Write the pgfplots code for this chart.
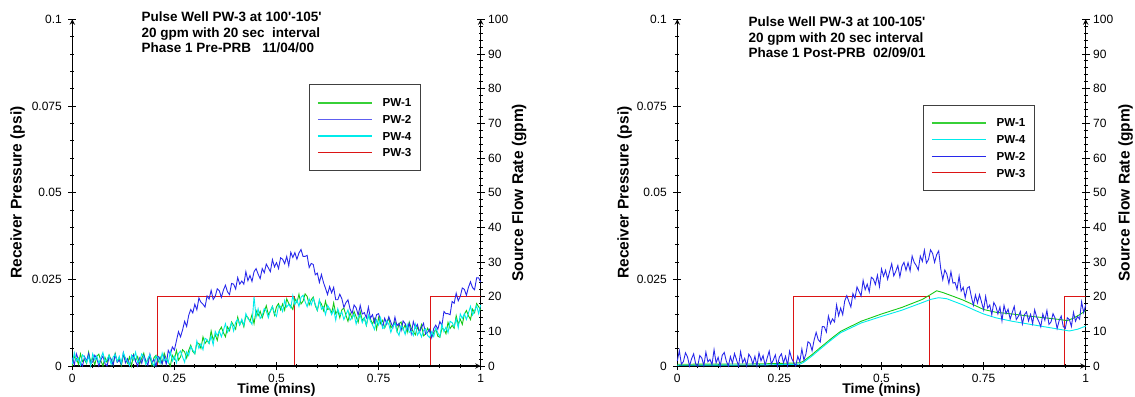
\documentclass[border=0pt]{standalone}
\usepackage{pgfplots}
\pgfplotsset{compat=1.18}
\usepackage{pgfplotstable}
\usepackage{fontspec}
\setmainfont{Liberation Sans}
\definecolor{pgreen}{RGB}{20,200,20}
\definecolor{pblue}{RGB}{40,40,235}
\definecolor{pcyan}{RGB}{0,235,235}
\definecolor{pred}{RGB}{220,20,20}

% pressure values in units of 0.001 psi, sampled every 0.005 min
\pgfplotstableread{
pw1 pw2 pw4
0.0 2.4 0.6
2.7 0.4 3.8
2.2 3.5 1.4
0.5 1.9 2.3
3.5 1.0 0.3
1.3 0.0 3.2
1.9 2.7 2.5
0.7 1.4 1.0
4.0 3.6 2.8
1.1 0.6 0.0
2.3 1.2 3.5
0.3 3.1 1.8
2.8 2.2 2.9
3.4 0.0 0.8
1.5 1.8 2.4
0.0 2.9 3.9
2.5 0.7 1.1
1.0 0.0 1.9
3.2 2.5 3.1
1.8 2.0 0.4
0.4 0.3 2.6
3.6 3.3 3.3
1.2 1.1 1.3
2.1 1.7 2.8
0.1 0.5 0.8
3.0 3.8 3.9
2.3 0.9 2.3
0.8 2.1 1.4
2.6 0.1 0.2
0.0 2.6 3.1
3.3 3.2 1.8
1.6 1.3 4.0
2.7 0.0 1.0
0.6 2.3 1.6
2.2 0.8 3.5
3.7 3.0 2.6
0.9 1.6 0.4
1.7 0.2 2.2
2.9 3.4 3.3
0.2 1.0 1.1
2.4 1.9 0.0
3.1 0.0 2.9
1.1 2.8 2.4
2.6 2.1 0.7
0.6 0.6 3.7
3.7 2.9 1.5
2.1 0.5 2.1
1.2 4.5 0.9
0.0 3.3 4.2
3.1 5.5 1.4
2.0 4.6 2.8
4.5 7.3 0.9
1.7 9.9 3.6
2.6 8.4 4.3
4.7 10.4 2.6
4.1 12.9 1.1
2.3 11.4 4.1
4.5 14.6 3.0
6.0 16.3 5.6
4.2 15.3 4.6
3.5 17.8 3.6
6.7 16.2 7.2
6.5 19.6 5.1
5.1 18.4 6.4
8.4 17.8 4.7
6.5 17.0 8.0
7.4 20.2 7.6
6.5 19.3 6.5
10.1 21.8 8.6
7.5 19.2 6.1
9.0 20.1 10.0
7.4 22.3 8.7
10.2 21.7 10.1
11.2 19.8 8.4
9.6 21.9 10.3
8.4 23.3 12.2
11.3 21.4 9.7
10.2 20.6 10.9
12.7 23.8 12.4
11.7 23.6 10.1
10.6 22.2 12.6
14.1 25.5 13.5
11.9 23.6 11.8
13.1 24.5 13.5
11.3 23.6 11.7
14.5 27.2 15.1
14.0 24.6 13.7
12.8 26.1 13.0
14.8 24.4 12.0
12.2 27.2 20.0
16.0 28.1 14.1
14.5 26.5 16.5
15.8 25.2 13.7
13.9 28.1 14.5
15.7 26.9 16.6
17.4 29.4 15.9
14.8 28.3 13.9
15.8 27.2 15.9
17.2 30.7 17.2
14.7 28.6 15.2
17.1 29.8 14.3
18.0 28.1 17.4
16.2 31.2 17.2
17.9 30.8 15.7
16.1 29.5 18.9
19.4 31.6 17.0
18.0 28.9 17.8
17.3 32.8 16.8
16.3 31.3 20.3
19.4 32.7 17.7
18.3 30.8 19.1
20.7 32.6 17.2
17.9 33.6 19.8
18.7 31.6 20.4
20.8 31.6 18.6
20.1 31.9 17.1
17.6 28.4 19.4
19.1 29.6 17.6
19.9 29.3 19.5
17.4 26.3 17.8
16.0 26.8 16.1
18.7 24.1 19.1
17.9 26.4 16.4
16.0 24.1 17.1
18.7 22.4 14.8
16.3 20.6 17.5
16.6 22.9 16.5
15.2 21.1 14.8
18.2 22.7 16.3
15.1 19.1 13.2
16.0 19.1 16.5
13.9 20.7 14.7
16.2 19.4 15.6
16.7 16.9 13.4
14.6 18.3 14.8
12.9 19.1 16.2
15.3 16.5 13.2
13.7 15.1 13.9
15.7 17.6 14.9
14.2 16.8 12.1
12.6 14.7 14.1
15.7 17.5 14.7
13.1 15.0 12.5
13.9 15.4 13.9
11.7 13.9 11.7
14.5 17.0 14.7
13.6 13.8 12.9
12.0 14.8 11.9
13.6 12.5 10.5
10.6 14.8 13.3
14.0 15.1 11.8
12.2 13.1 13.9
13.2 11.3 10.8
11.0 13.8 11.2
12.5 12.1 13.0
13.9 14.2 12.0
11.0 12.6 9.7
11.7 11.1 11.4
12.8 14.1 12.3
10.0 11.6 10.0
12.1 12.3 8.8
12.7 10.2 11.6
10.5 13.0 10.9
11.9 12.2 9.1
9.7 10.6 12.0
12.7 12.3 9.7
10.9 9.3 10.1
9.9 12.8 8.8
9.0 11.0 12.0
11.3 12.0 8.9
9.8 9.8 10.0
11.9 11.1 8.4
8.7 12.3 10.3
9.2 9.2 10.8
10.9 9.7 8.8
9.9 10.6 8.2
8.4 8.2 9.9
9.6 10.8 8.5
10.7 11.8 10.9
8.6 10.6 9.6
8.3 12.8 8.4
10.8 11.7 12.0
10.6 15.7 9.9
9.3 15.1 11.2
12.6 15.1 9.6
10.8 14.8 12.9
11.7 18.6 12.5
10.9 18.1 11.4
14.5 21.0 13.6
12.0 18.8 11.0
13.5 20.1 15.0
12.0 22.5 13.7
14.9 22.1 15.1
16.0 20.4 13.4
14.5 22.7 15.3
13.4 24.3 17.2
16.4 22.6 14.7
15.4 22.0 15.9
18.0 25.4 17.4
17.1 25.4 15.1
16.1 24.2 17.6
}\leftdata

\pgfplotstableread{
pw2
1.5
4.4
0.5
1.3
3.8
2.6
0.0
2.1
3.5
0.6
0.0
3.0
2.3
0.1
4.0
1.2
1.9
0.4
4.7
0.9
2.5
0.0
3.1
3.9
1.4
0.0
2.7
0.8
3.6
1.8
0.0
4.1
1.0
2.2
0.0
3.4
2.5
0.5
2.8
0.0
3.8
1.5
3.0
0.2
2.3
4.3
0.6
1.7
3.2
0.0
2.6
3.5
0.9
2.8
0.2
4.3
2.2
1.0
0.0
2.8
1.2
4.9
1.7
3.5
7.0
6.5
4.4
7.5
9.7
7.6
6.9
11.4
11.3
9.8
14.4
12.2
13.6
12.7
17.6
14.5
16.7
14.8
18.8
20.3
18.6
17.0
20.9
19.5
22.8
21.5
20.2
24.7
22.0
23.6
21.4
25.6
25.1
23.5
26.2
22.9
28.0
25.9
27.6
25.0
27.3
29.5
26.0
27.3
29.0
25.7
28.8
29.9
27.6
29.8
27.4
31.7
29.9
29.0
27.7
31.7
30.2
33.4
29.7
30.7
33.5
32.5
29.9
32.1
33.2
28.1
24.9
27.7
26.5
23.8
27.2
23.9
24.1
22.1
25.9
21.6
22.7
19.7
22.5
22.9
20.0
17.5
20.5
18.2
20.6
18.4
16.2
20.1
16.7
17.6
14.8
18.3
17.2
15.0
17.0
13.0
17.5
15.1
16.4
13.5
15.4
17.2
13.4
14.3
15.7
12.1
14.8
15.6
13.0
14.9
12.2
16.2
14.1
12.9
11.3
15.0
13.2
16.0
12.0
12.7
15.1
13.8
10.8
13.1
14.4
11.4
10.8
13.9
13.4
11.4
15.5
12.9
14.3
13.5
18.5
15.4
17.7
}\rightdata

\tikzset{ttl/.style={anchor=base west, font=\bfseries\fontsize{13.5bp}{15bp}\selectfont}}

\pgfplotsset{
  panel/.style={
    scale only axis, width=408.4bp, height=346.7bp,
    xmin=0, xmax=1,
    tick align=inside,
    major tick length=8bp, minor tick length=4bp,
    every tick/.style={black, line width=0.9bp},
    axis line style={black, line width=1.4bp, -},
    ticklabel style={font=\fontsize{12bp}{14bp}\selectfont},
    /pgf/number format/assume math mode=true,
  },
  flowaxis/.style={panel,
    hide x axis, axis y line=right,
    ymin=0, ymax=100, ytick={0,10,...,100}, minor y tick num=4,
    ylabel={Source Flow Rate (gpm)},
    ylabel style={font=\bfseries\fontsize{15.5bp}{18bp}\selectfont, anchor=center},
  },
  presaxis/.style={panel, clip=false,
    axis x line=bottom, axis y line=left,
    ymin=0, ymax=100, ytick={0,25,50,75,100},
    yticklabels={0,0.025,0.05,0.075,0.1}, minor y tick num=4,
    xtick={0,0.25,0.5,0.75,1}, xticklabels={0,0.25,0.5,0.75,1}, minor x tick num=4,
    yticklabel style={xshift=-3bp},
    xticklabel style={anchor=center, yshift=-8bp},
    xlabel={Time (mins)},
    xlabel style={at={(axis description cs:0.5,0)}, anchor=center, yshift=-24bp,
      font=\bfseries\fontsize{14bp}{16bp}\selectfont},
    ylabel={Receiver Pressure (psi)},
    ylabel style={font=\bfseries\fontsize{15.5bp}{18bp}\selectfont, anchor=center},
    legend cell align=left,
    legend style={anchor=north west, draw=black!75, line width=0.8bp, fill=white,
      font=\bfseries\fontsize{11.6bp}{13bp}\selectfont,
      inner xsep=7.5bp, inner ysep=9.5bp, row sep=0bp,
      nodes={inner xsep=1.5bp, inner ysep=0bp, text height=12.5bp, text depth=4.2bp},
      /tikz/every odd column/.append style={column sep=8.5bp}},
    legend image code/.code={\draw[#1] (0bp,0bp) -- (53.7bp,0bp);},
  },
}

\begin{document}
\begin{tikzpicture}
\useasboundingbox (0,0) rectangle (1135bp,397bp);

% ---------------- left panel ----------------
\begin{axis}[flowaxis, at={(72.3bp,31bp)}, anchor=south west,
  ylabel style={at={(axis description cs:1.0943,0.5)}}]
\addplot[pred, line width=1.1bp] coordinates {(0,0) (0.209,0) (0.209,20) (0.543,20) (0.543,0) (0.876,0) (0.876,20) (1,20)};
\end{axis}
\begin{axis}[presaxis, at={(72.3bp,31bp)}, anchor=south west,
  ylabel style={at={(axis description cs:-0.1337,0.5)}},
  legend style={at={(axis description cs:0.580,0.812)}}]
\addplot[pgreen, line width=0.9bp, forget plot] table[x expr=\coordindex*0.005, y=pw1] {\leftdata};
\addplot[pblue, line width=0.9bp, forget plot] table[x expr=\coordindex*0.005, y=pw2] {\leftdata};
\addplot[pcyan, line width=0.9bp, forget plot] table[x expr=\coordindex*0.005, y=pw4] {\leftdata};
\addlegendimage{pgreen!85!white, line width=1.8bp}
\addlegendentry{PW-1}
\addlegendimage{pblue!75!white, line width=1.8bp}
\addlegendentry{PW-2}
\addlegendimage{pcyan, line width=1.8bp}
\addlegendentry{PW-4}
\addlegendimage{pred, line width=1bp}
\addlegendentry{PW-3}
\node[ttl] at (axis description cs:0.161,0.9934) {Pulse Well PW-3 at 100\textquotesingle-105\textquotesingle};
\node[ttl] at (axis description cs:0.161,0.9487) {20 gpm with 20 sec\ \ interval};
\node[ttl] at (axis description cs:0.161,0.9040) {Phase 1 Pre-PRB\ \ \ 11/04/00};
\end{axis}

% ---------------- right panel ----------------
\begin{axis}[flowaxis, at={(677.3bp,31bp)}, anchor=south west,
  ylabel style={at={(axis description cs:1.0979,0.5)}}]
\addplot[pred, line width=1.1bp] coordinates {(0,0) (0.284,0) (0.284,20) (0.617,20) (0.617,0) (0.949,0) (0.949,20) (1,20)};
\end{axis}
\begin{axis}[presaxis, at={(677.3bp,31bp)}, anchor=south west,
  ylabel style={at={(axis description cs:-0.129,0.5)}},
  legend style={at={(axis description cs:0.602,0.754)}}]
\addplot[pgreen, line width=0.9bp, forget plot] coordinates {(0,0.5) (0.2,0.6) (0.3,0.9) (0.31,1.5) (0.33,3.3) (0.35,5.3) (0.38,8.2) (0.40,10.0) (0.45,12.9) (0.50,15.0) (0.55,16.9) (0.60,19.2) (0.62,20.6) (0.635,21.7) (0.65,21.2) (0.68,19.9) (0.70,19.0) (0.73,17.4) (0.75,16.3) (0.78,15.5) (0.82,15.0) (0.86,14.4) (0.90,13.9) (0.93,13.5) (0.955,13.1) (0.97,13.8) (0.985,14.8) (1.0,16.0)};
\addplot[pcyan, line width=0.9bp, forget plot] coordinates {(0,0.2) (0.2,0.3) (0.3,0.5) (0.31,1.1) (0.33,2.9) (0.35,4.9) (0.38,7.8) (0.40,9.6) (0.45,12.4) (0.50,14.3) (0.55,16.1) (0.60,18.3) (0.62,19.2) (0.64,19.7) (0.66,19.4) (0.68,18.5) (0.70,17.6) (0.73,16.0) (0.75,15.0) (0.78,13.9) (0.82,12.9) (0.86,12.1) (0.90,11.3) (0.93,10.7) (0.96,10.1) (0.98,10.6) (1.0,11.5)};
\addplot[pblue, line width=0.9bp, forget plot] table[x expr=\coordindex*0.005, y=pw2] {\rightdata};
\addlegendimage{pgreen!85!white, line width=1.8bp}
\addlegendentry{PW-1}
\addlegendimage{pcyan, line width=1.8bp}
\addlegendentry{PW-4}
\addlegendimage{pblue, line width=1bp}
\addlegendentry{PW-2}
\addlegendimage{pred, line width=1bp}
\addlegendentry{PW-3}
\node[ttl] at (axis description cs:0.166,0.9790) {Pulse Well PW-3 at 100-105\textquotesingle};
\node[ttl] at (axis description cs:0.166,0.9343) {20 gpm with 20 sec interval};
\node[ttl] at (axis description cs:0.166,0.8896) {Phase 1 Post-PRB\ \ 02/09/01};
\end{axis}
\end{tikzpicture}
\end{document}
